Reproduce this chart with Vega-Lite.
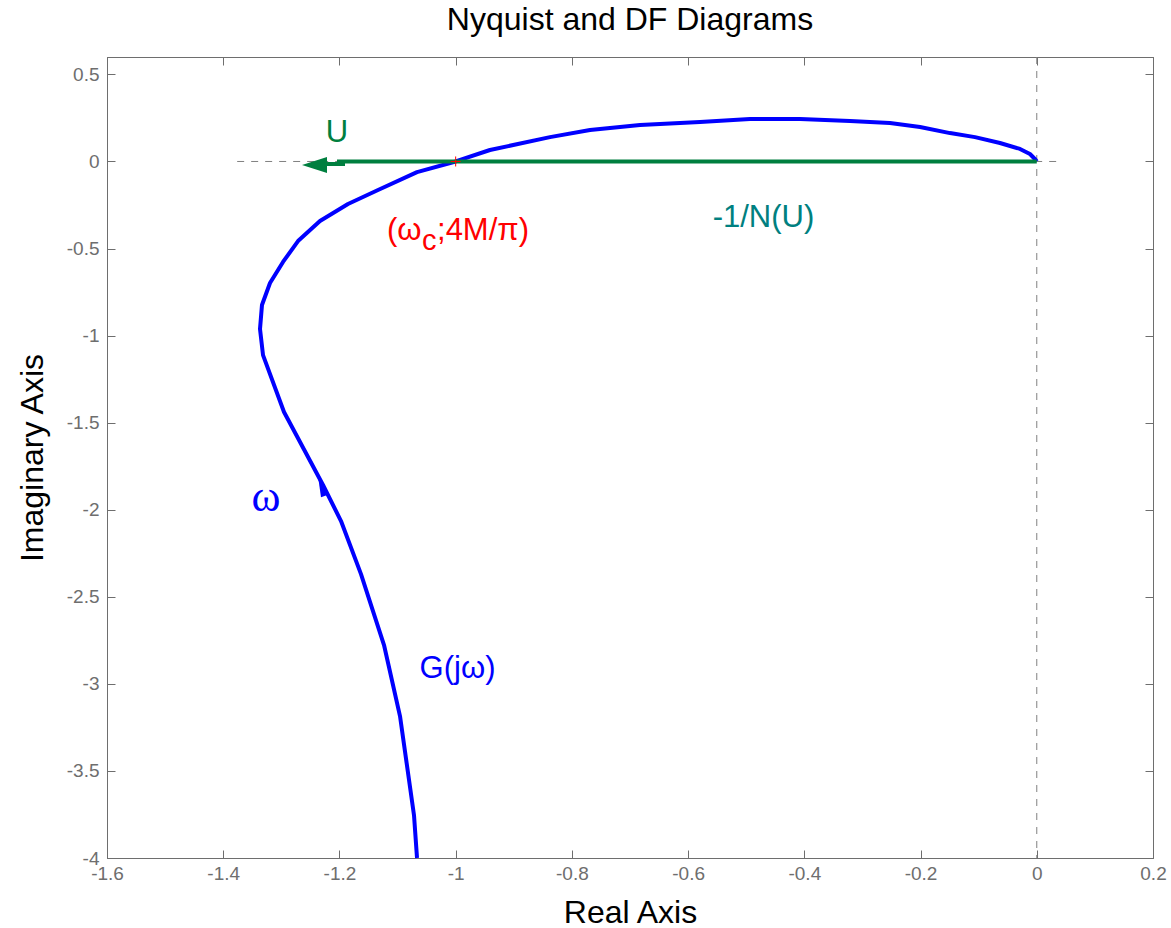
{
  "$schema": "https://vega.github.io/schema/vega-lite/v6.json",
  "autosize": "none",
  "width": 1046,
  "height": 801,
  "padding": {"left": 107, "top": 57, "right": 18, "bottom": 70},
  "background": "white",
  "title": {"text": "Nyquist and DF Diagrams", "font": "Liberation Sans", "fontSize": 32, "fontWeight": "normal", "color": "#000000", "anchor": "middle", "offset": 17},
  "config": {
    "view": {"stroke": "#6e6e6e", "strokeWidth": 1},
    "axis": {"domainColor": "#6e6e6e", "tickColor": "#6e6e6e", "labelColor": "#6e6e6e", "labelFont": "Liberation Sans", "labelFontSize": 19, "tickSize": -8, "grid": false, "labelFlush": false, "titleFont": "Liberation Sans", "titleFontSize": 32, "titleFontWeight": "normal", "titleColor": "#000000"}
  },
  "resolve": {"axis": {"x": "independent", "y": "independent"}},
  "layer": [
    {
      "data": {"values": [{"x": -1.376, "x2": 0.0366, "y": 0}]},
      "mark": {"type": "rule", "color": "#808080", "strokeWidth": 1, "strokeDash": [7, 7]},
      "encoding": {
        "x": {"field": "x", "type": "quantitative", "scale": {"domain": [-1.6, 0.2], "nice": false, "zero": false},
          "axis": {"orient": "bottom", "values": [-1.6, -1.4, -1.2, -1, -0.8, -0.6, -0.4, -0.2, 0, 0.2], "labelExpr": "datum.value + ''", "labelPadding": 14, "title": "Real Axis", "titlePadding": 14}},
        "x2": {"field": "x2"},
        "y": {"field": "y", "type": "quantitative", "scale": {"domain": [-4, 0.6], "nice": false, "zero": false},
          "axis": {"orient": "left", "values": [-4, -3.5, -3, -2.5, -2, -1.5, -1, -0.5, 0, 0.5], "labelExpr": "datum.value + ''", "labelPadding": 16, "title": "Imaginary Axis", "titlePadding": 17}}
      }
    },
    {
      "data": {"values": [{"x": -1.6, "y": -4}, {"x": 0.2, "y": 0.6}]},
      "mark": {"type": "point", "opacity": 0},
      "encoding": {
        "x": {"field": "x", "type": "quantitative", "scale": {"domain": [-1.6, 0.2], "nice": false, "zero": false},
          "axis": {"orient": "top", "values": [-1.6, -1.4, -1.2, -1, -0.8, -0.6, -0.4, -0.2, 0, 0.2], "labels": false, "title": null}},
        "y": {"field": "y", "type": "quantitative", "scale": {"domain": [-4, 0.6], "nice": false, "zero": false},
          "axis": {"orient": "right", "values": [-4, -3.5, -3, -2.5, -2, -1.5, -1, -0.5, 0, 0.5], "labels": false, "title": null}}
      }
    },
    {
      "data": {"values": [{"x": 0}]},
      "mark": {"type": "rule", "color": "#808080", "strokeWidth": 1, "strokeDash": [7, 7]},
      "encoding": {
        "x": {"field": "x", "type": "quantitative", "axis": null}
      }
    },
    {
      "data": {"values": [
        {"i": 1, "x": -1.0665, "y": -4.0},
        {"i": 2, "x": -1.0717, "y": -3.754},
        {"i": 3, "x": -1.0958, "y": -3.185},
        {"i": 4, "x": -1.1233, "y": -2.777},
        {"i": 5, "x": -1.1629, "y": -2.37},
        {"i": 6, "x": -1.1973, "y": -2.065},
        {"i": 7, "x": -1.2283, "y": -1.858},
        {"i": 8, "x": -1.2954, "y": -1.439},
        {"i": 9, "x": -1.3315, "y": -1.112},
        {"i": 10, "x": -1.3367, "y": -0.962},
        {"i": 11, "x": -1.3333, "y": -0.824},
        {"i": 12, "x": -1.3195, "y": -0.698},
        {"i": 13, "x": -1.2971, "y": -0.577},
        {"i": 14, "x": -1.2713, "y": -0.457},
        {"i": 15, "x": -1.2335, "y": -0.342},
        {"i": 16, "x": -1.1853, "y": -0.244},
        {"i": 17, "x": -1.1336, "y": -0.164},
        {"i": 18, "x": -1.0665, "y": -0.061},
        {"i": 19, "x": -1.0, "y": 0.0},
        {"i": 20, "x": -0.941, "y": 0.066},
        {"i": 21, "x": -0.8377, "y": 0.14},
        {"i": 22, "x": -0.7688, "y": 0.181},
        {"i": 23, "x": -0.6828, "y": 0.209},
        {"i": 24, "x": -0.5795, "y": 0.227},
        {"i": 25, "x": -0.4935, "y": 0.244},
        {"i": 26, "x": -0.4074, "y": 0.244},
        {"i": 27, "x": -0.3214, "y": 0.232},
        {"i": 28, "x": -0.2526, "y": 0.221},
        {"i": 29, "x": -0.2009, "y": 0.198},
        {"i": 30, "x": -0.1493, "y": 0.163},
        {"i": 31, "x": -0.1063, "y": 0.14},
        {"i": 32, "x": -0.0633, "y": 0.106},
        {"i": 33, "x": -0.0289, "y": 0.072},
        {"i": 34, "x": -0.0117, "y": 0.043},
        {"i": 35, "x": -0.002, "y": 0.01},
        {"i": 36, "x": 0.0, "y": 0.0}
      ]},
      "mark": {"type": "line", "color": "#0000ff", "strokeWidth": 4, "strokeJoin": "round"},
      "encoding": {
        "x": {"field": "x", "type": "quantitative", "axis": null},
        "y": {"field": "y", "type": "quantitative", "axis": null},
        "order": {"field": "i", "type": "quantitative"}
      }
    },
    {
      "data": {"values": [{"x": 0, "x2": -1.2042, "y": 0}]},
      "mark": {"type": "rule", "color": "#007f3f", "strokeWidth": 4},
      "encoding": {
        "x": {"field": "x", "type": "quantitative", "axis": null},
        "x2": {"field": "x2"},
        "y": {"field": "y", "type": "quantitative", "axis": null}
      }
    },
    {
      "data": {"values": [{"x": -1.1904, "x2": -1.2214, "y": -0.0146}]},
      "mark": {"type": "rule", "color": "#007f3f", "strokeWidth": 4},
      "encoding": {
        "x": {"field": "x", "type": "quantitative", "axis": null},
        "x2": {"field": "x2"},
        "y": {"field": "y", "type": "quantitative", "axis": null}
      }
    },
    {
      "data": {"values": [{"x": -1.2429, "y": -0.0203}]},
      "mark": {"type": "point", "shape": "M -1 0 L 1 -0.64 L 1 0.64 Z", "size": 625, "filled": true, "color": "#007f3f", "opacity": 1},
      "encoding": {
        "x": {"field": "x", "type": "quantitative", "axis": null},
        "y": {"field": "y", "type": "quantitative", "axis": null}
      }
    },
    {
      "data": {"values": [{"x": -1.2309, "y": -1.8727}]},
      "mark": {"type": "point", "shape": "M 0 -1 L 0.42 1 L -0.42 1 Z", "size": 324, "filled": true, "color": "#0000ff", "opacity": 1, "angle": 340},
      "encoding": {
        "x": {"field": "x", "type": "quantitative", "axis": null},
        "y": {"field": "y", "type": "quantitative", "axis": null}
      }
    },
    {
      "data": {"values": [{"x": -1, "y": 0}]},
      "mark": {"type": "point", "shape": "M -1 0 L 1 0 M 0 -1 L 0 1", "size": 100, "filled": false, "color": "#ff0000", "strokeWidth": 1, "opacity": 1},
      "encoding": {
        "x": {"field": "x", "type": "quantitative", "axis": null},
        "y": {"field": "y", "type": "quantitative", "axis": null}
      }
    },
    {
      "data": {"values": [{"text": "U", "x": -1.2042, "y": 0.1118}]},
      "mark": {"type": "text", "font": "Liberation Sans", "fontSize": 31, "color": "#007f3f", "align": "center", "baseline": "alphabetic"},
      "encoding": {
        "x": {"field": "x", "type": "quantitative", "axis": null},
        "y": {"field": "y", "type": "quantitative", "axis": null},
        "text": {"field": "text"}
      }
    },
    {
      "data": {"values": [{"text": "-1/N(U)", "x": -0.4703, "y": -0.3765}]},
      "mark": {"type": "text", "font": "Liberation Sans", "fontSize": 31, "color": "#008080", "align": "center", "baseline": "alphabetic"},
      "encoding": {
        "x": {"field": "x", "type": "quantitative", "axis": null},
        "y": {"field": "y", "type": "quantitative", "axis": null},
        "text": {"field": "text"}
      }
    },
    {
      "data": {"values": [{"text": "(ω", "x": -1.1182, "y": -0.4511}, {"text": ";4M/π)", "x": -1.0321, "y": -0.4511}]},
      "mark": {"type": "text", "font": "Liberation Sans", "fontSize": 31, "color": "#ff0000", "align": "left", "baseline": "alphabetic"},
      "encoding": {
        "x": {"field": "x", "type": "quantitative", "axis": null},
        "y": {"field": "y", "type": "quantitative", "axis": null},
        "text": {"field": "text"}
      }
    },
    {
      "data": {"values": [{"text": "c", "x": -1.0579, "y": -0.5086}]},
      "mark": {"type": "text", "font": "Liberation Sans", "fontSize": 29, "color": "#ff0000", "align": "left", "baseline": "alphabetic"},
      "encoding": {
        "x": {"field": "x", "type": "quantitative", "axis": null},
        "y": {"field": "y", "type": "quantitative", "axis": null},
        "text": {"field": "text"}
      }
    },
    {
      "data": {"values": [{"text": "G(jω)", "x": -0.9968, "y": -2.967}]},
      "mark": {"type": "text", "font": "Liberation Sans", "fontSize": 31, "color": "#0000ff", "align": "center", "baseline": "alphabetic"},
      "encoding": {
        "x": {"field": "x", "type": "quantitative", "axis": null},
        "y": {"field": "y", "type": "quantitative", "axis": null},
        "text": {"field": "text"}
      }
    },
    {
      "data": {"values": [{"text": "ω", "x": -1.3264, "y": -2.0077}]},
      "mark": {"type": "text", "font": "Liberation Serif", "fontSize": 44, "color": "#0000ff", "align": "center", "baseline": "alphabetic"},
      "encoding": {
        "x": {"field": "x", "type": "quantitative", "axis": null},
        "y": {"field": "y", "type": "quantitative", "axis": null},
        "text": {"field": "text"}
      }
    }
  ]
}
